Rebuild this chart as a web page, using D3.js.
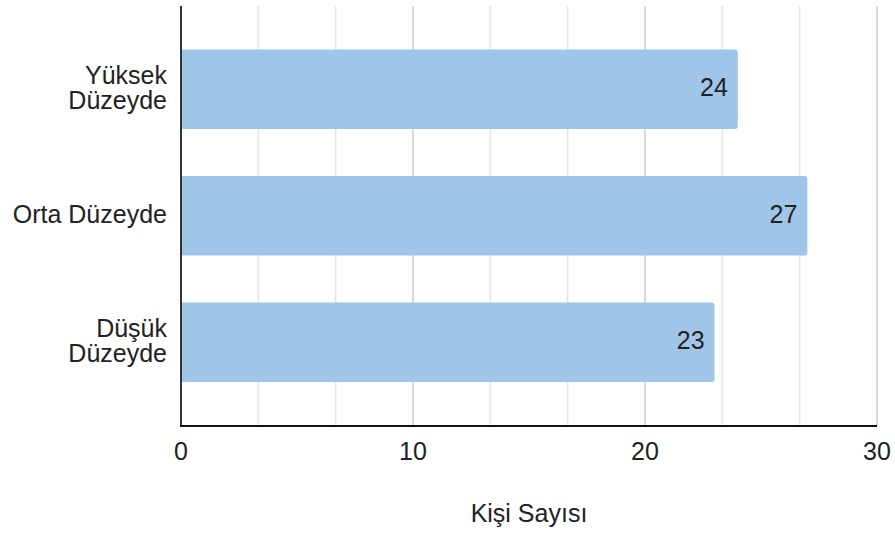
<!DOCTYPE html>
<html>
<head>
<meta charset="utf-8">
<script src="https://cdn.jsdelivr.net/npm/d3@7"></script>
<style>
  body { margin: 0; background: #fff; }
  text { font-family: "Liberation Sans", Arial, sans-serif; }
</style>
</head>
<body>
<div id="chart"></div>
<script>
const categories = ["Yüksek Düzeyde", "Orta Düzeyde", "Düşük Düzeyde"];
const labelLines = [["Yüksek", "Düzeyde"], ["Orta Düzeyde"], ["Düşük", "Düzeyde"]];
const values = [24, 27, 23];
const majorTicks = [0, 10, 20, 30];
const minorTicks = [10 / 3, 20 / 3, 40 / 3, 50 / 3, 70 / 3, 80 / 3];
const xTitle = "Kişi Sayısı";

function init() {
    const width = 895;
    const height = 534;
    const plot = { left: 181, right: 877, top: 6, bottom: 426 };
    const fs = 25;

    const xScale = d3.scaleLinear().domain([0, 30]).range([plot.left, plot.right]);
    const yScale = d3.scaleBand().domain(categories)
        .range([26, 405.5]).paddingInner(0.37).paddingOuter(0.185);

    const svg = d3.select("#chart").append("svg")
        .attr("width", width).attr("height", height);

    // gridlines
    svg.selectAll("line.minor").data(minorTicks).enter().append("line")
        .attr("class", "minor")
        .attr("x1", d => xScale(d)).attr("x2", d => xScale(d))
        .attr("y1", plot.top).attr("y2", plot.bottom)
        .attr("stroke", "#e4e4e4").attr("stroke-width", 1.5);

    svg.selectAll("line.major").data(majorTicks.filter(d => d > 0)).enter().append("line")
        .attr("class", "major")
        .attr("x1", d => xScale(d)).attr("x2", d => xScale(d))
        .attr("y1", plot.top).attr("y2", plot.bottom)
        .attr("stroke", "#cccccc").attr("stroke-width", 1.5);

    // bars (rounded on right end)
    const r = 3;
    svg.selectAll("path.bar").data(values).enter().append("path")
        .attr("class", "bar")
        .attr("fill", "#9fc5e8")
        .attr("d", (d, i) => {
            const x0 = xScale(0), x1 = xScale(d);
            const y0 = yScale(categories[i]), y1 = y0 + yScale.bandwidth();
            return `M${x0},${y0}H${x1 - r}Q${x1},${y0} ${x1},${y0 + r}V${y1 - r}Q${x1},${y1} ${x1 - r},${y1}H${x0}Z`;
        });

    // value labels
    svg.selectAll("text.val").data(values).enter().append("text")
        .attr("class", "val")
        .attr("x", d => xScale(d) - 10)
        .attr("y", (d, i) => yScale(categories[i]) + yScale.bandwidth() / 2 + 7)
        .attr("text-anchor", "end")
        .attr("font-size", fs)
        .attr("fill", "#222")
        .text(d => d);

    // left axis line
    svg.append("line")
        .attr("x1", plot.left).attr("x2", plot.left)
        .attr("y1", plot.top).attr("y2", plot.bottom)
        .attr("stroke", "#333").attr("stroke-width", 2);

    // bottom axis
    svg.append("line")
        .attr("x1", plot.left - 1).attr("x2", plot.right)
        .attr("y1", plot.bottom).attr("y2", plot.bottom)
        .attr("stroke", "#111").attr("stroke-width", 2);

    svg.selectAll("text.tick").data(majorTicks).enter().append("text")
        .attr("class", "tick")
        .attr("x", d => xScale(d))
        .attr("y", 460)
        .attr("text-anchor", "middle")
        .attr("font-size", fs)
        .attr("fill", "#222")
        .text(d => d);

    // category labels
    categories.forEach((c, i) => {
        const lines = labelLines[i];
        const cy = yScale(c) + yScale.bandwidth() / 2;
        const lh = 25;
        const t = svg.append("text")
            .attr("text-anchor", "end")
            .attr("font-size", fs)
            .attr("fill", "#222");
        lines.forEach((ln, j) => {
            t.append("tspan")
                .attr("x", 167)
                .attr("y", cy + 7 + (j - (lines.length - 1) / 2) * lh)
                .text(ln);
        });
    });

    // x title
    svg.append("text")
        .attr("x", (plot.left + plot.right) / 2)
        .attr("y", 522)
        .attr("text-anchor", "middle")
        .attr("font-size", fs)
        .attr("fill", "#222")
        .text(xTitle);
}

window.onload = init;
</script>
</body>
</html>
